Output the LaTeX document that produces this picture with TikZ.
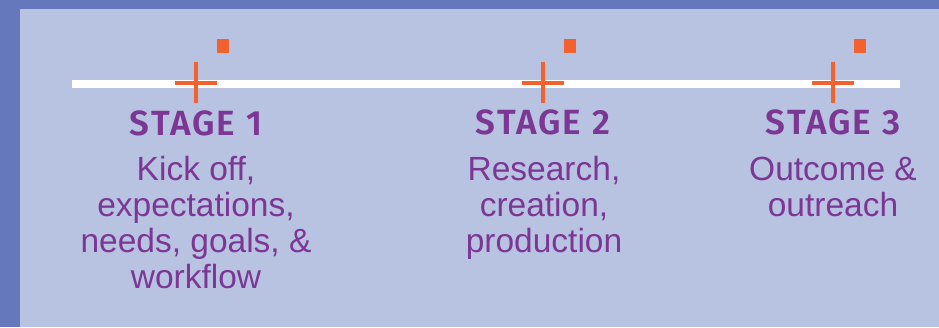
\documentclass[tikz,border=0pt]{standalone}
\usepackage{fontspec}
\setmainfont{Liberation Sans}
\newfontfamily\headfont{Fira Sans}[UprightFont=* SemiBold,LetterSpace=6]
\definecolor{outerblue}{HTML}{6478BB}
\definecolor{panel}{HTML}{B8C2E1}
\definecolor{txtpurple}{HTML}{7C3795}
\definecolor{mark}{HTML}{F2612E}
\begin{document}
\begin{tikzpicture}[x=1pt,y=-1pt,
  heading/.style={anchor=base,inner sep=0pt,text=txtpurple,font=\headfont\fontsize{35}{36}\selectfont},
  body/.style={anchor=base,inner sep=0pt,text=txtpurple,align=center,font=\fontsize{33.5}{36}\selectfont},
  crossline/.style={draw=mark,line width=3.6pt},
  dotsq/.style={fill=mark}]
\useasboundingbox (0,0) rectangle (939,327);
\fill[outerblue] (0,0) rectangle (939,327);
\fill[panel] (20,9) rectangle (939,327);
% timeline
\coordinate (lstart) at (72,84);
\coordinate (lend) at (900,84);
\draw[white,line width=7.7pt] (lstart) -- (lend);
% markers
\foreach \cx/\nm in {196/a,543/b,833/c}{
  \coordinate (c\nm) at (\cx,82.7);
  \draw[crossline] ([xshift=-21pt]c\nm) -- ([xshift=21pt]c\nm);
  \draw[crossline] ([yshift=21pt]c\nm) -- ([yshift=-20.5pt]c\nm);
  \fill[dotsq] ([xshift=21pt,yshift=43.5pt]c\nm) rectangle ([xshift=33pt,yshift=30pt]c\nm);
}
% headings
\node[heading] (h1) at (196,135) {STAGE 1};
\node[heading] (h2) at (543,134) {STAGE 2};
\node[heading] (h3) at (833,134) {STAGE 3};
% bodies (base anchor = last line's baseline)
\node[body] (b1) at (196,288) {Kick off,\\expectations,\\needs, goals, \&\\workflow};
\node[body] (b2) at (544,252) {Research,\\creation,\\production};
\node[body] (b3) at (833,216) {Outcome \&\\outreach};
\end{tikzpicture}
\end{document}
